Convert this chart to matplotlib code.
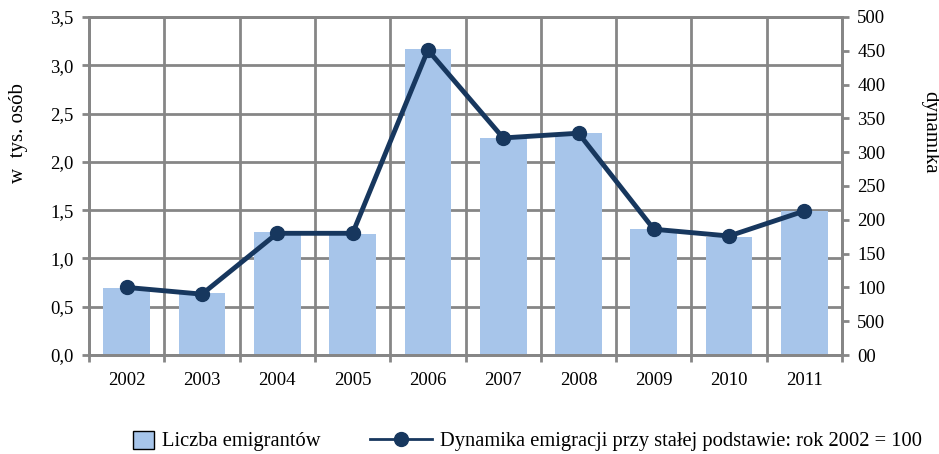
import matplotlib.pyplot as plt
import matplotlib.patches as mpatches
import matplotlib.lines as mlines
from matplotlib.legend_handler import HandlerPatch
import numpy as np

years = ['2002', '2003', '2004', '2005', '2006', '2007', '2008', '2009', '2010', '2011']
emigranci = [0.69, 0.64, 1.27, 1.25, 3.17, 2.25, 2.30, 1.30, 1.22, 1.49]
dynamika = [100, 90, 180, 180, 451, 321, 328, 186, 176, 213]
left_ticks = [0.0, 0.5, 1.0, 1.5, 2.0, 2.5, 3.0, 3.5]
left_labels = ['0,0', '0,5', '1,0', '1,5', '2,0', '2,5', '3,0', '3,5']
right_ticks = [0, 50, 100, 150, 200, 250, 300, 350, 400, 450, 500]
right_labels = ['00', '500', '100', '150', '200', '250', '300', '350', '400', '450', '500']

plt.rcParams['font.family'] = ['Liberation Serif', 'DejaVu Serif']
plt.rcParams['font.size'] = 13.5

bar_col = '#A7C5EA'
line_col = '#17375E'
grid_col = '#868686'


def square_patch(legend, orig_handle, xdescent, ydescent, width, height, fontsize):
    # small square box on the right side of the handle area
    side = height * 1.2
    return mpatches.Rectangle((width - side * 1.2 - xdescent, -ydescent - 0.15 * height),
                              side * 1.2, side)


fig = plt.figure(figsize=(9.39, 4.54), dpi=100)
ax = fig.add_axes([0.0948, 0.218, 0.802, 0.7448])
x = np.arange(len(years))

ax.bar(x, emigranci, width=0.62, color=bar_col, zorder=2)
ax.set_xlim(-0.5, len(years) - 0.5)
ax.set_ylim(0, 3.5)
ax.set_yticks(left_ticks)
ax.set_yticklabels(left_labels)
ax.set_xticks(x)
ax.set_xticklabels(years)
ax.set_xticks(np.arange(-0.5, len(years)), minor=True)
ax.tick_params(axis='x', which='major', length=0, pad=12)
ax.tick_params(axis='x', which='minor', length=5, width=2, color=grid_col)
ax.tick_params(axis='y', length=5, width=2, color=grid_col, pad=6)
ax.grid(True, axis='y', color=grid_col, linewidth=2, zorder=1)
ax.grid(True, axis='x', which='minor', color=grid_col, linewidth=2, zorder=1)
for s in ax.spines.values():
    s.set_color(grid_col)
    s.set_linewidth(2)
ax.set_axisbelow(True)
ax.set_ylabel('w  tys. osób', fontsize=15, va='center')
ax.yaxis.set_label_coords(-0.094, 0.655)

ax2 = ax.twinx()
ax2.plot(x, dynamika, color=line_col, linewidth=3.5, marker='o', markersize=10, zorder=5)
ax2.set_ylim(0, 500)
ax2.set_yticks(right_ticks)
ax2.set_yticklabels(right_labels)
ax2.tick_params(axis='y', length=5, width=2, color=grid_col, pad=6)
for s in ax2.spines.values():
    s.set_color(grid_col)
    s.set_linewidth(2)
ax2.set_ylabel('dynamika', rotation=270, fontsize=15, va='center')
ax2.yaxis.set_label_coords(1.117, 0.66)

h1 = mpatches.Patch(facecolor=bar_col, edgecolor='black', linewidth=1)
h2 = mlines.Line2D([], [], color=line_col, linewidth=2, marker='o', markersize=10)
fig.legend([h1, h2], ['Liczba emigrantów', 'Dynamika emigracji przy stałej podstawie: rok 2002 = 100'],
           loc='lower center', bbox_to_anchor=(0.54, -0.035), ncol=2, frameon=False, fontsize=14.8,
           handlelength=3.0, columnspacing=2.4, handletextpad=0.4,
           handler_map={mpatches.Patch: HandlerPatch(patch_func=square_patch)})

fig.savefig('out.png', dpi=100)
